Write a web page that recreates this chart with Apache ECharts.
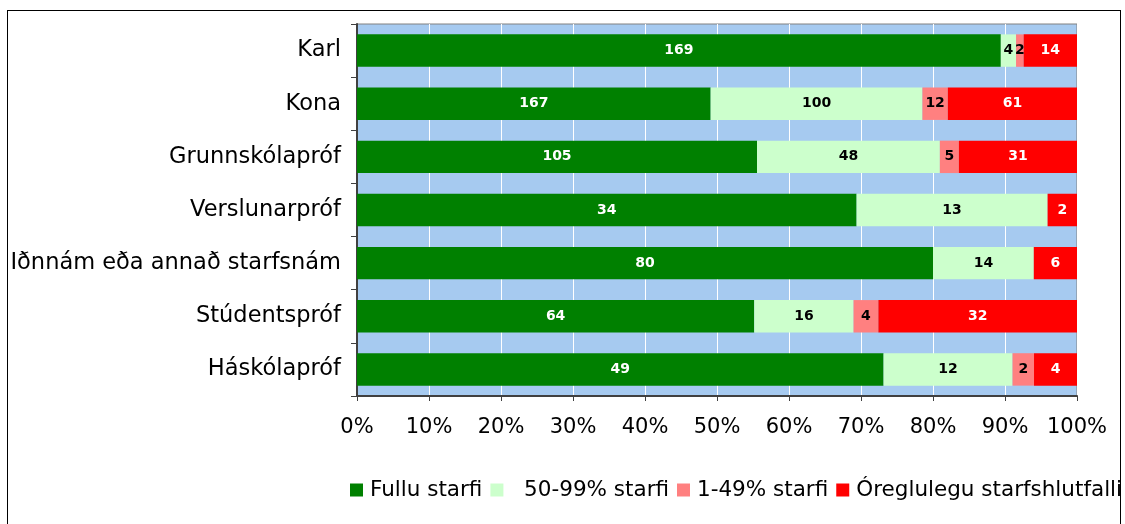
<!DOCTYPE html>
<html>
<head>
<meta charset="utf-8">
<script src="https://cdn.jsdelivr.net/npm/echarts@6/dist/echarts.min.js"></script>
<style>
  html, body { margin: 0; padding: 0; background: #fff; }
  #frame { position: absolute; left: 7px; top: 10px; width: 1112px; height: 600px; border: 1px solid #000; }
  #main { position: absolute; left: 0; top: 0; width: 1125px; height: 524px; }
</style>
</head>
<body>
<div id="frame"></div>
<div id="main"></div>
<script>
  // flokkar og fjöldi í hverjum flokki
  const categories = ['Karl', 'Kona', 'Grunnskólapróf', 'Verslunarpróf', 'Iðnnám eða annað starfsnám', 'Stúdentspróf', 'Háskólapróf'];
  const fullu = [169, 167, 105, 34, 80, 64, 49];
  const halft = [4, 100, 48, 13, 14, 16, 12];
  const litid = [2, 12, 5, 0, 0, 4, 2];
  const oreglulegt = [14, 61, 31, 2, 6, 32, 4];
  const seriesNames = ['Fullu starfi', '  50-99% starfi', '1-49% starfi', 'Óreglulegu starfshlutfalli'];
  const colors = ['#008000', '#CCFFCC', '#FF8080', '#FF0000'];
  const labelColors = ['#fff', '#000', '#000', '#fff'];
  const xTicks = [0, 10, 20, 30, 40, 50, 60, 70, 80, 90, 100];

  const raw = [fullu, halft, litid, oreglulegt];
  const totals = categories.map((c, i) => raw.reduce((s, arr) => s + arr[i], 0));

  const chart = echarts.init(document.getElementById('main'));
  const font = 'DejaVu Sans, Verdana, sans-serif';

  chart.setOption({
    animation: false,
    color: colors,
    textStyle: { fontFamily: font },
    grid: {
      left: 357, right: 48, top: 24, bottom: 128,
      show: true, backgroundColor: '#A6CAF0', borderColor: '#808080', borderWidth: 1
    },
    legend: {
      bottom: 18, left: 345, width: 1200,
      icon: 'rect', itemWidth: 13, itemHeight: 13, itemGap: 8,
      textStyle: { fontSize: 21.5, color: '#000', fontFamily: font, padding: [0, 0, 0, 2] },
      data: seriesNames
    },
    xAxis: {
      type: 'value', min: 0, max: 100, interval: 10,
      axisLine: { show: true, lineStyle: { color: '#404040', width: 2 } },
      axisTick: { show: true, length: 5, lineStyle: { color: '#404040' } },
      axisLabel: { formatter: v => xTicks.includes(v) ? v + '%' : '', fontSize: 21, color: '#000', margin: 21 },
      splitLine: { show: true, lineStyle: { color: '#fff', width: 1 } }
    },
    yAxis: {
      type: 'category', inverse: true, data: categories,
      axisLine: { show: true, lineStyle: { color: '#404040', width: 2 } },
      axisTick: { show: true, length: 6, lineStyle: { color: '#404040' } },
      axisLabel: { fontSize: 22.5, color: '#000', margin: 16 }
    },
    series: raw.map((arr, k) => ({
      name: seriesNames[k],
      type: 'bar',
      stack: 'all',
      barCategoryGap: '39%',
      data: arr.map((v, i) => ({ value: v / totals[i] * 100, raw: v })),
      label: {
        show: true,
        position: 'inside',
        color: labelColors[k],
        fontWeight: 'bold',
        fontSize: 14,
        fontFamily: font,
        formatter: p => p.data.raw > 0 ? String(p.data.raw) : ''
      }
    }))
  });
</script>
</body>
</html>
